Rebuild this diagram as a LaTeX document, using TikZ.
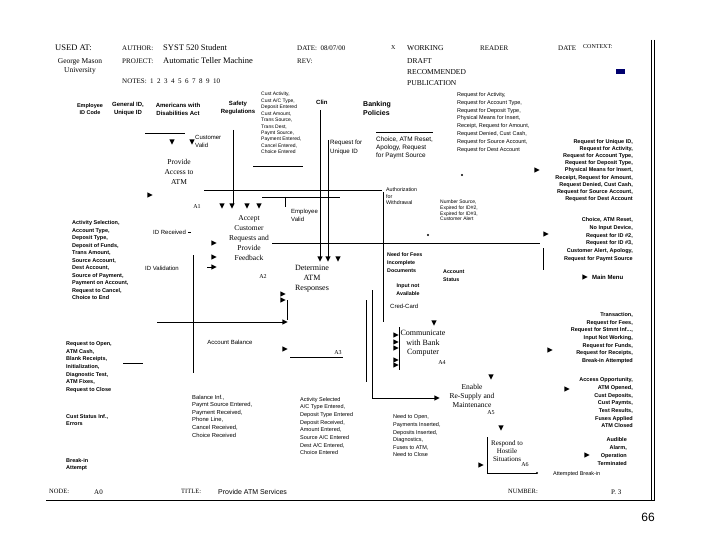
\documentclass[tikz,border=0pt]{standalone}
\usepackage{fontspec}
\setmainfont{Liberation Serif}
\newfontfamily\lsans{Liberation Sans}
\definecolor{navyb}{RGB}{0,0,110}
\tikzset{
  hd/.style={anchor=west,inner sep=0,font=\fontsize{8}{9}\selectfont},
  lb/.style={inner sep=0,font=\lsans\bfseries\fontsize{5.5}{7.6}\selectfont},
  lbr/.style={inner sep=0,font=\lsans\fontsize{6}{8}\selectfont},
  boxt/.style={inner sep=0,align=center,font=\fontsize{7.5}{10}\selectfont},
  anum/.style={inner sep=0,font=\fontsize{6}{7}\selectfont},
  ln/.style={line width=0.8pt},
  pics/ad/.style={code={\fill (-2.6,-2.6)--(2.6,-2.6)--(0,2.6)--cycle;}},
  pics/ar/.style={code={\fill (-2.6,-2.6)--(-2.6,2.6)--(2.6,0)--cycle;}}
}
\begin{document}
\begin{tikzpicture}[x=1pt,y=-1pt]
\useasboundingbox (0,0) rectangle (720,540);
\fill[white] (0,0) rectangle (720,540);
% ---------- header ----------
\node[hd,font=\fontsize{8.5}{9}\selectfont] (usedat) at (55,48) {USED AT:};
\node[inner sep=0,align=center,font=\fontsize{7.5}{9}\selectfont] (gmu) at (80,66.5) {George Mason\\University};
\node[hd,font=\fontsize{7}{8}\selectfont] (author) at (122,48) {AUTHOR:};
\node[hd,font=\fontsize{8.5}{9}\selectfont] (authv) at (163,48) {SYST 520 Student};
\node[hd,font=\fontsize{7}{8}\selectfont] (proj) at (122,61) {PROJECT:};
\node[hd,font=\fontsize{8.5}{9}\selectfont] (projv) at (163,61) {Automatic Teller Machine};
\node[hd,font=\fontsize{7}{8}\selectfont] (notes) at (122,81) {NOTES:\enspace 1\enspace 2\enspace 3\enspace 4\enspace 5\enspace 6\enspace 7\enspace 8\enspace 9\enspace 10};
\node[hd,font=\fontsize{7}{8}\selectfont] (date) at (297,48) {DATE:\enspace 08/07/00};
\node[hd,font=\fontsize{7}{8}\selectfont] (rev) at (297,61) {REV:};
\node[hd,font=\fontsize{6}{7}\selectfont] (xmark) at (391,48) {X};
\node[hd,font=\fontsize{7.5}{8}\selectfont] (working) at (407,48) {WORKING};
\node[hd,font=\fontsize{7.5}{8}\selectfont] (draft) at (407,61) {DRAFT};
\node[hd,font=\fontsize{7.5}{8}\selectfont] (recom) at (407,72) {RECOMMENDED};
\node[hd,font=\fontsize{7.5}{8}\selectfont] (pub) at (407,83) {PUBLICATION};
\node[hd,font=\fontsize{7}{8}\selectfont] (reader) at (480,48) {READER};
\node[hd,font=\fontsize{7}{8}\selectfont] (date2) at (558,48) {DATE};
\node[hd,font=\fontsize{6}{7}\selectfont] (context) at (583,46.5) {CONTEXT:};
\fill[navyb] (616,69) rectangle (625,74.5);
% frame
\draw[line width=0.9pt] (651,40) -- (651,500);
\draw[line width=0.9pt] (654.5,40) -- (654.5,500);
\draw[line width=0.9pt] (46,500) -- (654.5,500);
% footer
\node[hd,font=\fontsize{6.5}{7}\selectfont] (node) at (49,491) {NODE:};
\node[hd,font=\fontsize{7}{8}\selectfont] (a0) at (94,492) {A0};
\node[hd,font=\fontsize{6.5}{7}\selectfont] (title) at (181,491) {TITLE:};
\node[hd,font=\lsans\fontsize{7}{8}\selectfont] (titlev) at (218,492) {Provide ATM Services};
\node[hd,font=\fontsize{6.5}{7}\selectfont] (number) at (508,491) {NUMBER:};
\node[hd,font=\fontsize{7}{8}\selectfont] (pnum) at (611,492) {P. 3};
\node[inner sep=0,font=\lsans\fontsize{12}{14}\selectfont] (pg) at (648,517) {66};
% ---------- top controls ----------
\node[lb,align=center] (empid) at (90,109) {Employee\\ID Code};
\node[lb,align=center,font=\lsans\bfseries\fontsize{6}{8}\selectfont] (genid) at (128,109) {General ID,\\Unique ID};
\node[lb,align=center,font=\lsans\bfseries\fontsize{6}{8}\selectfont] (ada) at (178,109) {Americans with\\Disabilities Act};
\node[lb,align=center,font=\lsans\bfseries\fontsize{6}{8}\selectfont] (safety) at (238,108) {Safety\\Regulations};
\node[lb,anchor=west,align=left,font=\lsans\fontsize{5}{6.45}\selectfont] (custin) at (261,123) {Cust Activity,\\Cust A/C Type,\\Deposit Entered\\Cust Amount,\\Trans Source,\\Trans Dest,\\Paymt Source,\\Payment Entered,\\Cancel Entered,\\Choice Entered};
\node[lb,anchor=west,font=\lsans\bfseries\fontsize{6}{8}\selectfont] (clin) at (316,102) {Clin};
\node[lb,anchor=west,align=left,font=\lsans\bfseries\fontsize{7}{9}\selectfont] (bank) at (363,108.5) {Banking\\Policies};
\node[lbr,anchor=west,align=left,font=\lsans\fontsize{6.2}{9}\selectfont] (requid) at (330,147.5) {Request for\\Unique ID};
\node[lbr,anchor=west,align=left,font=\lsans\fontsize{6.4}{8}\selectfont] (choice1) at (376,148) {Choice, ATM Reset,\\Apology, Request\\for Paymt Source};
\node[lbr,anchor=west,align=left,font=\lsans\fontsize{5.5}{7.85}\selectfont] (reqact) at (457,122.5) {Request for Activity,\\Request for Account Type,\\Request for Deposit Type,\\Physical Means for Insert,\\Receipt, Request for Amount,\\Request Denied, Cust Cash,\\Request for Source Account,\\Request for Dest Account};
\node[lbr,anchor=west,align=left] (custvalid) at (195,141) {Customer\\Valid};
% ---------- activity boxes ----------
\node[boxt] (a1t) at (179,172) {Provide\\Access to\\ATM};
\node[anum] (a1) at (197,207) {A1};
\node[boxt,font=\fontsize{7.5}{9.8}\selectfont] (a2t) at (249,238) {Accept\\Customer\\Requests and\\Provide\\Feedback};
\node[anum] (a2) at (263,277) {A2};
\node[boxt,font=\fontsize{8}{10}\selectfont] (a3t) at (312,279) {Determine\\ATM\\Responses};
\node[anum] (a3) at (338,353) {A3};
\node[boxt,font=\fontsize{8}{9.5}\selectfont] (a4t) at (423,343.5) {Communicate\\with Bank\\Computer};
\node[anum] (a4) at (442,363) {A4};
\node[boxt,font=\fontsize{7.5}{9}\selectfont] (a5t) at (472,396) {Enable\\Re-Supply and\\Maintenance};
\node[anum] (a5) at (491,413) {A5};
\node[boxt,font=\fontsize{7}{8}\selectfont] (a6t) at (507,451) {Respond to\\Hostile\\Situations};
\node[anum] (a6) at (525,465) {A6};
% ---------- middle labels ----------
\node[lbr,anchor=west,align=left] (empvalid) at (291,215.5) {Employee\\Valid};
\node[lbr,anchor=west,align=left,font=\lsans\fontsize{5.3}{6.6}\selectfont] (authw) at (386,196.5) {Authorization\\for\\Withdrawal};
\node[lbr,anchor=west,align=left,font=\lsans\fontsize{5}{5.8}\selectfont] (numsrc) at (440,210.5) {Number Source,\\Expired for ID\#2,\\Expired for ID\#3,\\Customer Alert};
\node[lb,anchor=west,align=left,font=\lsans\bfseries\fontsize{5.3}{8}\selectfont] (needfees) at (387,263) {Need for Fees\\Incomplete\\Documents};
\node[lb,anchor=west,align=left,font=\lsans\bfseries\fontsize{5.3}{8}\selectfont] (acctstat) at (443,276) {Account\\Status};
\node[lb,align=center,font=\lsans\bfseries\fontsize{5.3}{7.5}\selectfont] (inpna) at (408,289.5) {Input not\\Available};
\node[lbr,anchor=west] (credcard) at (390,306) {Cred-Card};
\node[lbr,anchor=west] (idrec) at (153,232) {ID Received};
\node[lbr,anchor=west] (idval) at (145,268) {ID Validation};
\node[lbr] (acctbal) at (230,342) {Account Balance};
% ---------- left labels ----------
\node[lb,anchor=west,align=left,font=\lsans\bfseries\fontsize{5.5}{7.5}\selectfont] (actsel) at (72,260.5) {Activity Selection,\\Account Type,\\Deposit Type,\\Deposit of Funds,\\Trans Amount,\\Source Account,\\Dest Account,\\Source of Payment,\\Payment on Account,\\Request to Cancel,\\Choice to End};
\node[lb,anchor=west,align=left,font=\lsans\bfseries\fontsize{5.5}{7.67}\selectfont] (reqopen) at (66,367) {Request to Open,\\ATM Cash,\\Blank Receipts,\\Initialization,\\Diagnostic Test,\\ATM Fixes,\\Request to Close};
\node[lb,anchor=west,align=left,font=\lsans\bfseries\fontsize{5.5}{7}\selectfont] (custstat) at (66,420.5) {Cust Status Inf.,\\Errors};
\node[lb,anchor=west,align=left,font=\lsans\bfseries\fontsize{5.5}{7}\selectfont] (breakin) at (66,464.5) {Break-in\\Attempt};
% ---------- bottom labels ----------
\node[lbr,anchor=west,align=left,font=\lsans\fontsize{5.8}{7.6}\selectfont] (balinf) at (192,416) {Balance Inf.,\\Paymt Source Entered,\\Payment Received,\\Phone Line,\\Cancel Received,\\Choice Received};
\node[lbr,anchor=west,align=left,font=\lsans\fontsize{5.5}{7.7}\selectfont] (actseld) at (300,426) {Activity Selected\\A/C Type Entered,\\Deposit Type Entered\\Deposit Received,\\Amount Entered,\\Source A/C Entered\\Dest A/C Entered,\\Choice Entered};
\node[lbr,anchor=west,align=left,font=\lsans\fontsize{5.5}{7.6}\selectfont] (needopen) at (393,436) {Need to Open,\\Payments Inserted,\\Deposits Inserted,\\Diagnostics,\\Fuses to ATM,\\Need to Close};
% ---------- right labels ----------
\node[lb,anchor=east,align=right,font=\lsans\bfseries\fontsize{5.5}{7.1}\selectfont] (out1) at (633,170.5) {Request for Unique ID,\\Request for Activity,\\Request for Account Type,\\Request for Deposit Type,\\Physical Means for Insert,\\Receipt, Request for Amount,\\Request Denied, Cust Cash,\\Request for Source Account,\\Request for Dest Account};
\node[lb,anchor=east,align=right,font=\lsans\bfseries\fontsize{5.5}{7.8}\selectfont] (out2) at (633,239.5) {Choice, ATM Reset,\\No Input Device,\\Request for ID \#2,\\Request for ID \#3,\\Customer Alert, Apology,\\Request for Paymt Source};
\node[lb,anchor=west,font=\lsans\bfseries\fontsize{6}{7}\selectfont] (mainmenu) at (592,277) {Main Menu};
\node[lb,anchor=east,align=right,font=\lsans\bfseries\fontsize{5.5}{7.67}\selectfont] (out3) at (633,338) {Transaction,\\Request for Fees,\\Request for Stmnt Inf...,\\Input Not Working,\\Request for Funds,\\Request for Receipts,\\Break-in Attempted};
\node[lb,anchor=east,align=right,font=\lsans\bfseries\fontsize{5.5}{7.67}\selectfont] (out4) at (633,403) {Access Opportunity,\\ATM Opened,\\Cust Deposits,\\Cust Paymts,\\Test Results,\\Fuses Applied\\ATM Closed};
\node[lb,anchor=east,align=right,font=\lsans\bfseries\fontsize{5.5}{8}\selectfont] (out5) at (627,452) {Audible\\Alarm,\\Operation\\Terminated};
\node[lbr,anchor=west,font=\lsans\fontsize{5.5}{7}\selectfont] (attbr) at (553,474) {Attempted Break-in};
% ---------- lines ----------
\draw[ln] (145,133) -- (185,133);
\draw[ln] (233,130) -- (233,204);
\draw[ln] (204,190) -- (382,190);
\draw[ln] (253,166) -- (303,166);
\draw[ln] (262,197) -- (340,197);
\draw[ln] (285,197) -- (285,207);
\draw[ln] (320,110) -- (320,257);
\draw[ln] (328,140) -- (328,257);
\draw[ln] (376,132) -- (433,132);
\draw[ln] (383,192) -- (383,322);
\draw[ln] (272,243) -- (540,243);
\draw[ln] (543,248) -- (543,270);
\draw[ln] (193,255) -- (193,373);
\draw[ln] (287,300) -- (287,320);
\draw[ln] (157,322) -- (283,322);
\draw[ln] (123,363) -- (143,363);
\draw[ln] (290,357) -- (343,357);
\draw[ln] (366,300) -- (366,382);
\draw[ln] (372,290) -- (372,398) -- (435,398);
\draw[ln] (399,327) -- (399,370);
\draw[ln] (487,437) -- (487,473) -- (537,473);
\draw[ln] (207,267) -- (212,267);
\draw[ln] (188,232) -- (191,232);
\fill (537,473) circle (1.2);
\fill (462,175) circle (1.1);
\fill (428,235) circle (1.1);
% ---------- arrowheads ----------
\pic at (172,142) {ad}; \pic at (192,142) {ad};
\pic at (150,195) {ar};
\pic at (222,206) {ad}; \pic at (232,206) {ad}; \pic at (247,206) {ad}; \pic at (259,206) {ad};
\pic at (214,243) {ar}; \pic at (214,257) {ar}; \pic at (214,267) {ar};
\pic at (320,259) {ad}; \pic at (328,259) {ad}; \pic at (338,259) {ad};
\pic at (283,294) {ar}; \pic at (283,300) {ar};
\pic at (285,322) {ar}; \pic at (285,349) {ar};
\pic at (537,170) {ar}; \pic at (546,234) {ar}; \pic at (585,277) {ar};
\pic at (550,350) {ar}; \pic at (567,389) {ar}; \pic at (587,455) {ar};
\pic at (434,323) {ad};
\pic at (396,335) {ar}; \pic at (396,342) {ar}; \pic at (396,348) {ar}; \pic at (396,360) {ar}; \pic at (396,365) {ar};
\pic at (491,377) {ad}; \pic at (437,398) {ar};
\pic at (501,428) {ad}; \pic at (481,465) {ar};
\end{tikzpicture}
\end{document}
